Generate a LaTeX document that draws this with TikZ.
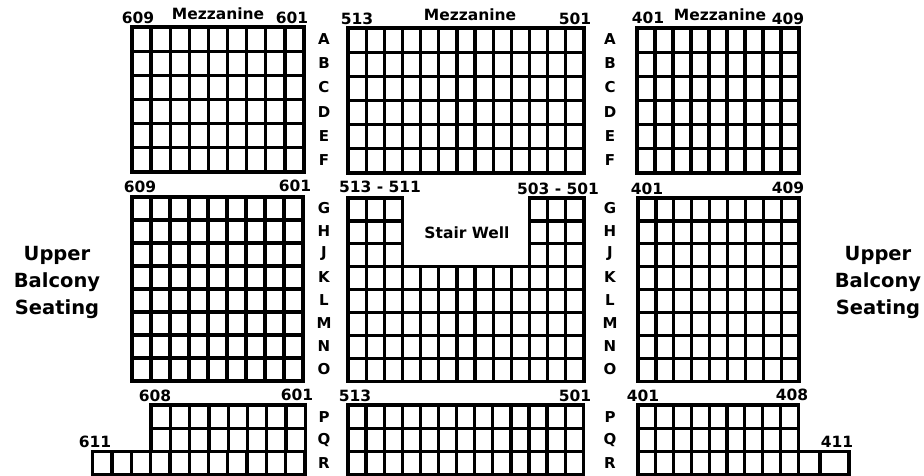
\documentclass[tikz,border=0pt]{standalone}
\usepackage{fontspec}
\setmainfont{DejaVu Sans}
\usetikzlibrary{positioning}

% blocco di posti: x0, y0, larghezza, altezza, colonne, file
\newcommand{\blocco}[6]{%
  \foreach \c in {1,...,#5} {
    \foreach \r in {1,...,#6} {
      \draw[posto] ({#1+(\c-1)*#3},{#2+(\r-1)*#4}) rectangle ++(#3,#4);
    }
  }
}

\begin{document}
\begin{tikzpicture}[
  x=1pt, y=-1pt,
  posto/.style={draw=black, line width=3.3pt},
  numero/.style={font=\bfseries\fontsize{15.5}{17}\selectfont, inner sep=0pt},
  fila/.style={font=\bfseries\fontsize{15}{17}\selectfont, inner sep=0pt},
  settore/.style={font=\bfseries\fontsize{19.5}{27}\selectfont, align=center, inner sep=0pt}
]
\useasboundingbox (0,0) rectangle (924,476);

% ---- mezzanine: file A-F ---------------------------------------------
\blocco{132}{27}{19.11}{24.17}{9}{6}
\blocco{348}{28}{18.15}{24.17}{13}{6}
\blocco{637}{28}{18}{24.17}{9}{6}

\node[numero] (m609) at (138,18) {609};
\node[numero] (mezz6) at (218,14) {Mezzanine};
\node[numero] (m601) at (292,18) {601};
\node[numero] (m513) at (357,19) {513};
\node[numero] (mezz5) at (470,15) {Mezzanine};
\node[numero] (m501) at (575,19) {501};
\node[numero] (m401) at (648,18) {401};
\node[numero] (mezz4) at (720,15) {Mezzanine};
\node[numero] (m409) at (788,19) {409};

\foreach \f/\y in {A/39, B/63, C/87, D/112, E/136, F/160} {
  \node[fila] (fila\f sx) at (324,\y) {\f};
  \node[fila] (fila\f dx) at (610,\y) {\f};
}

% ---- file G-O con la tromba delle scale -----------------------------
\blocco{132}{197}{19}{23}{9}{8}
\blocco{348}{198}{18.15}{22.9}{3}{8}
\blocco{529.5}{198}{18.15}{22.9}{3}{8}
\blocco{402.45}{266.7}{18.15}{22.9}{7}{5}
\blocco{638}{198}{17.9}{22.9}{9}{8}

\node[numero] (c609) at (140,187) {609};
\node[numero] (c601) at (295,186) {601};
\node[numero] (c513) at (380,187) {513 - 511};
\node[numero] (c503) at (558,189) {503 - 501};
\node[numero] (c401) at (647,189) {401};
\node[numero] (c409) at (788,188) {409};
\node[numero] (scala) at (467,233) {Stair Well};

\foreach \f/\y in {G/208, H/231, J/254, K/277, L/300, M/323, N/346, O/369} {
  \node[fila] (fila\f sx) at (324,\y) {\f};
  \node[fila] (fila\f dx) at (610,\y) {\f};
}

% ---- file P-R -----------------------------------------------------------
\blocco{151}{405}{19.3}{23.3}{8}{2}
\blocco{92.7}{451.6}{19.3}{23.3}{11}{1}
\blocco{348}{405}{18.1}{23.3}{13}{3}
\blocco{638}{405}{17.8}{23.3}{9}{3}
\draw[posto] (798.2,451.6) rectangle (820,474.9);
\draw[posto] (820,451.6) rectangle (849,474.9);

\node[numero] (b608) at (155,396) {608};
\node[numero] (b601) at (297,395) {601};
\node[numero] (b611) at (95,442) {611};
\node[numero] (b513) at (355,396) {513};
\node[numero] (b501) at (575,396) {501};
\node[numero] (b401) at (643,396) {401};
\node[numero] (b408) at (792,395) {408};
\node[numero] (b411) at (837,442) {411};

\foreach \f/\y in {P/417, Q/440, R/463} {
  \node[fila] (fila\f sx) at (324,\y) {\f};
  \node[fila] (fila\f dx) at (610,\y) {\f};
}

% ---- galleria superiore -------------------------------------------------
\node[settore] (galleria sx) at (57,282) {Upper\\Balcony\\Seating};
\node[settore] (galleria dx) at (878,282) {Upper\\Balcony\\Seating};

\end{tikzpicture}
\end{document}
